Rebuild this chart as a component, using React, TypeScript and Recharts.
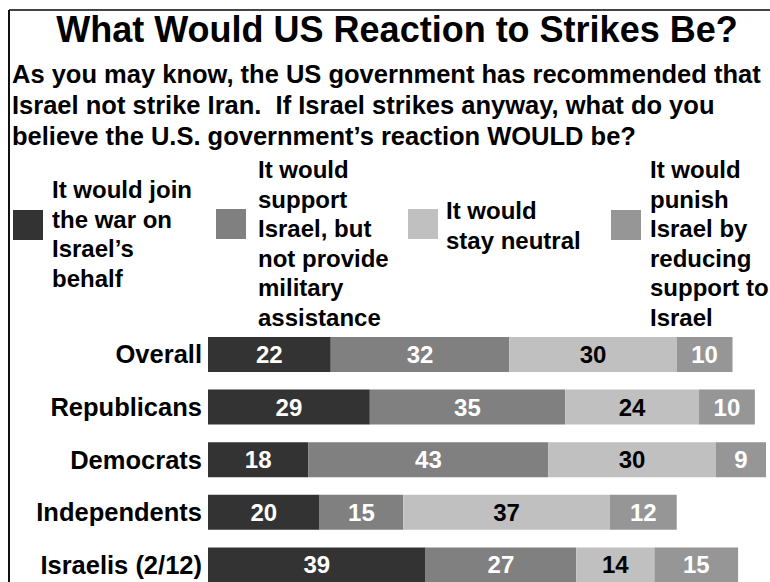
import React from 'react';
import { BarChart, Bar, XAxis, YAxis, Legend, LabelList } from 'recharts';

const categories = ['Overall', 'Republicans', 'Democrats', 'Independents', 'Israelis (2/12)'];
const joinWar = [22, 29, 18, 20, 39];
const supportNoMilitary = [32, 35, 43, 15, 27];
const stayNeutral = [30, 24, 30, 37, 14];
const punishIsrael = [10, 10, 9, 12, 15];

const seriesNames = [
  'It would join\nthe war on\nIsrael\u2019s\nbehalf',
  'It would\nsupport\nIsrael, but\nnot provide\nmilitary\nassistance',
  'It would\nstay neutral',
  'It would\npunish\nIsrael by\nreducing\nsupport to\nIsrael',
];

const titleText = 'What Would US Reaction to Strikes Be?';
const subtitleLines = [
  'As you may know, the US government has recommended that',
  'Israel not strike Iran.  If Israel strikes anyway, what do you',
  'believe the U.S. government\u2019s reaction WOULD be?',
];

const data = categories.map((c, i) => ({
  name: c,
  join: joinWar[i],
  support: supportNoMilitary[i],
  neutral: stayNeutral[i],
  punish: punishIsrael[i],
}));

const FONT = '"Liberation Sans", Arial, Helvetica, sans-serif';
const COLORS = ['#333333', '#808080', '#c0c0c0', '#969696'];

const legendLayout = [
  { sx: 13, sy: 210, tx: 52, ty: 198 },
  { sx: 216, sy: 209, tx: 258, ty: 178 },
  { sx: 408, sy: 209, tx: 446, ty: 219 },
  { sx: 611, sy: 210, tx: 650, ty: 178 },
];

const renderLegend = (props: any) => {
  const payload = props.payload || [];
  return (
    <svg width={770} height={345} style={{ display: 'block', overflow: 'visible' }}>
      {payload.map((entry: any) => {
        const idx = seriesNames.indexOf(String(entry.value));
        const lay = legendLayout[idx];
        if (!lay) return null;
        const lines = String(entry.value).split('\n');
        return (
          <g key={idx}>
            <rect x={lay.sx} y={lay.sy} width={30} height={30} fill={entry.color} />
            <text
              x={lay.tx}
              y={lay.ty}
              fontFamily={FONT}
              fontWeight="bold"
              fontSize={24}
              fill="#000"
            >
              {lines.map((ln, j) => (
                <tspan key={j} x={lay.tx} y={lay.ty + j * 29.5}>
                  {ln}
                </tspan>
              ))}
            </text>
          </g>
        );
      })}
    </svg>
  );
};

export default function App() {
  return (
    <div
      style={{
        position: 'absolute',
        left: 0,
        top: 0,
        width: 770,
        height: 582,
        overflow: 'hidden',
        background: '#fff',
      }}
    >
      <svg width={770} height={582} style={{ position: 'absolute', left: 0, top: 0 }}>
        <line x1={9} y1={10} x2={770} y2={10} stroke="#444" strokeWidth={2} />
        <line x1={9} y1={10} x2={9} y2={582} stroke="#111" strokeWidth={2} />
        <text
          x={397}
          y={42}
          textAnchor="middle"
          fontFamily={FONT}
          fontWeight="bold"
          fontSize={36}
          fill="#000"
        >
          {titleText}
        </text>
        {subtitleLines.map((ln, i) => (
          <text
            key={i}
            x={12}
            y={83 + i * 31}
            fontFamily={FONT}
            fontWeight="bold"
            fontSize={25.5}
            fill="#000"
            style={{ whiteSpace: 'pre' }}
            xmlSpace="preserve"
          >
            {ln}
          </text>
        ))}
      </svg>
      <div style={{ position: 'absolute', left: 0, top: 0 }}>
        <BarChart
          width={770}
          height={600}
          data={data}
          layout="vertical"
          margin={{ top: 328, right: 4, bottom: 9, left: 0 }}
          barSize={35}
        >
          <XAxis type="number" domain={[0, 100]} hide allowDataOverflow />
          <YAxis
            type="category"
            dataKey="name"
            width={208}
            axisLine={false}
            tickLine={false}
            tickSize={0}
            tickMargin={6}
            tick={{ fontFamily: FONT, fontWeight: 'bold', fontSize: 25.5, fill: '#000' }}
            interval={0}
          />
          <Legend
            layout="horizontal"
            verticalAlign="middle"
            align="center"
            content={renderLegend}
            wrapperStyle={{ position: 'absolute', left: 0, top: 0, width: 770, height: 345 }}
          />
          <Bar dataKey="join" stackId="a" name={seriesNames[0]} fill={COLORS[0]} isAnimationActive={false}>
            <LabelList dataKey="join" position="center" fill="#fff" fontFamily={FONT} fontWeight="bold" fontSize={24} />
          </Bar>
          <Bar dataKey="support" stackId="a" name={seriesNames[1]} fill={COLORS[1]} isAnimationActive={false}>
            <LabelList dataKey="support" position="center" fill="#fff" fontFamily={FONT} fontWeight="bold" fontSize={24} />
          </Bar>
          <Bar dataKey="neutral" stackId="a" name={seriesNames[2]} fill={COLORS[2]} isAnimationActive={false}>
            <LabelList dataKey="neutral" position="center" fill="#000" fontFamily={FONT} fontWeight="bold" fontSize={24} />
          </Bar>
          <Bar dataKey="punish" stackId="a" name={seriesNames[3]} fill={COLORS[3]} isAnimationActive={false}>
            <LabelList dataKey="punish" position="center" fill="#fff" fontFamily={FONT} fontWeight="bold" fontSize={24} />
          </Bar>
        </BarChart>
      </div>
    </div>
  );
}
